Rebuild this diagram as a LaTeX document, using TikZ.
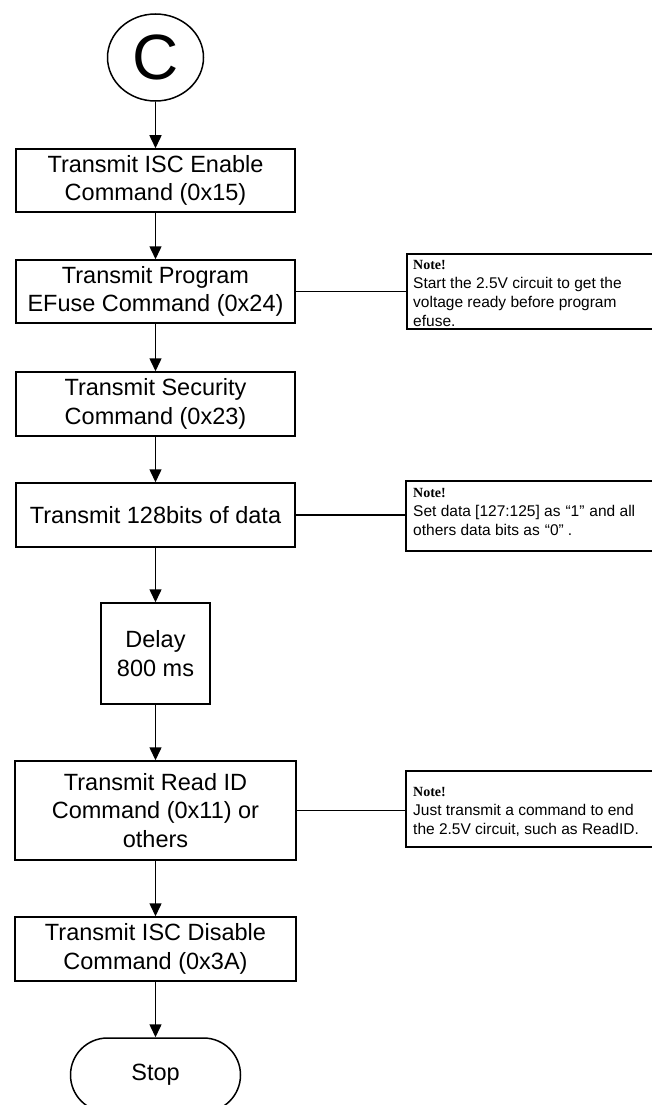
\documentclass[tikz,border=0pt]{standalone}
\usepackage{fontspec}
\setmainfont{Liberation Sans}
\newfontfamily\notefont{Liberation Serif}
\newcommand\myNoteHead{\notefont\bfseries\fontsize{14}{19}\selectfont}
\usetikzlibrary{arrows.meta,shapes.geometric}
\begin{document}
\begin{tikzpicture}[x=1pt,y=-1pt,
  box/.style={draw, line width=1.5pt, inner sep=0pt, align=center, font=\fontsize{23.5}{28.5}\selectfont},
  arr/.style={line width=1.5pt, -{Triangle[length=13pt,width=12pt]}},
  link/.style={line width=1.5pt},
  bracket/.style={inner sep=0pt, minimum width=252pt},
  notetext/.style={anchor=base west, inner sep=0pt, align=left, font=\fontsize{15.5}{19}\selectfont},
]
\useasboundingbox (0,0) rectangle (652,1105);
\clip (0,0) rectangle (652,1105);

\node[draw, ellipse, line width=1.5pt, minimum width=96pt, minimum height=87pt, inner sep=0pt,
      font=\fontsize{64}{64}\selectfont] (c) at (155.5,57.5) {C};

\node[box, minimum width=279pt, minimum height=63pt] (b1) at (155.5,180.5) {Transmit ISC Enable\\Command (0x15)};
\node[box, minimum width=279pt, minimum height=63pt] (b2) at (155.5,291.5) {Transmit Program\\EFuse Command (0x24)};
\node[box, minimum width=279pt, minimum height=64pt] (b3) at (155.5,404) {Transmit Security\\Command (0x23)};
\node[box, minimum width=279pt, minimum height=64pt] (b4) at (155.5,515) {Transmit 128bits of data};
\node[box, minimum width=109pt, minimum height=101pt] (b5) at (155.5,653.5) {Delay\\800 ms};
\node[box, minimum width=281pt, minimum height=99pt] (b6) at (155.5,810.5) {Transmit Read ID\\Command (0x11) or\\others};
\node[box, minimum width=281pt, minimum height=64pt] (b7) at (155.5,949) {Transmit ISC Disable\\Command (0x3A)};
\node[box, minimum width=170pt, minimum height=74pt, rounded corners=37pt] (stop) at (155.5,1075) {Stop};

\draw[arr] (c) -- (b1);
\draw[arr] (b1) -- (b2);
\draw[arr] (b2) -- (b3);
\draw[arr] (b3) -- (b4);
\draw[arr] (b4) -- (b5);
\draw[arr] (b5) -- (b6);
\draw[arr] (b6) -- (b7);
\draw[arr] (b7) -- (stop);

% Note 1
\node[bracket, minimum height=75pt, anchor=west] (n1) at (407,291.5) {};
\draw[link] (n1.north east) -- (n1.north west) -- (n1.south west) -- (n1.south east);
\draw[link] (b2.east) -- (b2.east -| n1.west);
\node[notetext] (t1) at (413,326) {{\myNoteHead Note!}\\Start the 2.5V circuit to get the\\voltage ready before program\\efuse.};

% Note 2
\node[bracket, minimum height=70pt, anchor=west] (n2) at (406,516) {};
\draw[link] (n2.north east) -- (n2.north west) -- (n2.south west) -- (n2.south east);
\draw[link] (b4.east) -- (b4.east -| n2.west);
\node[notetext] (t2) at (413,535) {{\myNoteHead Note!}\\Set data [127:125] as\hspace{5pt}“1”\hspace{5pt}and all\\others data bits as\hspace{5pt}“0”\hspace{4pt}.};

% Note 3
\node[bracket, minimum height=76pt, anchor=west] (n3) at (406,809) {};
\draw[link] (n3.north east) -- (n3.north west) -- (n3.south west) -- (n3.south east);
\draw[link] (b6.east) -- (b6.east -| n3.west);
\node[notetext] (t3) at (413,834) {{\myNoteHead Note!}\\Just transmit a command to end\\the 2.5V circuit, such as ReadID.};
\end{tikzpicture}
\end{document}
